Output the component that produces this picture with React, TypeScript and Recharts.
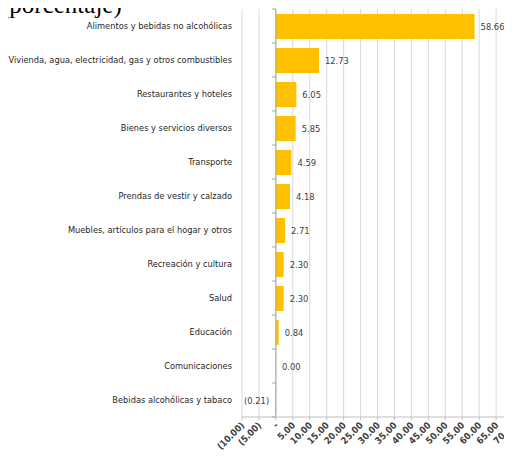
import React from 'react';
import {
  BarChart, Bar, XAxis, YAxis, CartesianGrid, ReferenceLine, LabelList
} from 'recharts';

const categories = [
  'Alimentos y bebidas no alcohólicas',
  'Vivienda, agua, electricidad, gas y otros combustibles',
  'Restaurantes y hoteles',
  'Bienes y servicios diversos',
  'Transporte',
  'Prendas de vestir y calzado',
  'Muebles, artículos para el hogar y otros',
  'Recreación y cultura',
  'Salud',
  'Educación',
  'Comunicaciones',
  'Bebidas alcohólicas y tabaco',
];

const values = [58.66, 12.73, 6.05, 5.85, 4.59, 4.18, 2.71, 2.30, 2.30, 0.84, 0.00, -0.21];

const xTicks = [-10, -5, 0, 5, 10, 15, 20, 25, 30, 35, 40, 45, 50, 55, 60, 65, 70];

const data = categories.map((name, i) => ({ name, value: values[i] }));

const FONT = "'DejaVu Sans Condensed', 'DejaVu Sans', sans-serif";
const W = 520;
const H = 458;
const MARGIN = { top: 9, right: 7, bottom: 0, left: 0 };
const Y_W = 242;
const X_H = 41;
const plotW = W - MARGIN.left - MARGIN.right - Y_W;
const plotH = H - MARGIN.top - MARGIN.bottom - X_H;
const band = plotH / categories.length;
const zeroX = MARGIN.left + Y_W + ((0 - xTicks[0]) / (xTicks[xTicks.length - 1] - xTicks[0])) * plotW;

const fmtAxis = (v: number) => {
  if (v === 0) return '-';
  if (v < 0) return `(${Math.abs(v).toFixed(2)})`;
  return v.toFixed(2);
};

const fmtLabel = (v: number) => (v < 0 ? `(${Math.abs(v).toFixed(2)})` : v.toFixed(2));

const XTick = (props: any) => {
  const { x, y, payload } = props;
  return (
    <g transform={`translate(${x + 3},${y + 4})`}>
      <text x={0} y={0} textAnchor="end" transform="rotate(-45)"
        fontFamily={FONT} fontSize={9.3} fontWeight="bold" fill="#404040">
        {fmtAxis(payload.value)}
      </text>
    </g>
  );
};

const YTick = (props: any) => {
  const { x, y, payload, index } = props;
  const top = y - band / 2;
  return (
    <g>
      <text x={x - 2} y={y} dy="0.35em" textAnchor="end" fontFamily={FONT} fontSize={9.2} fill="#262626">
        {payload.value}
      </text>
      <line x1={zeroX - 4} x2={zeroX} y1={top} y2={top} stroke="#a6a6a6" />
      {index === categories.length - 1 && (
        <line x1={zeroX - 4} x2={zeroX} y1={top + band} y2={top + band} stroke="#a6a6a6" />
      )}
    </g>
  );
};

// zero-valued bars get a hairline so their label still renders
const minSize = (v: any) => (v === 0 ? 0.05 : 0);

const App: React.FC = () => {
  return (
    <div style={{ position: 'relative', width: 512, height: 458, margin: -8, overflow: 'hidden', background: '#fff' }}>
      <div style={{
        position: 'absolute', left: 1, top: -10, fontFamily: "'Liberation Serif', serif",
        fontSize: 25, lineHeight: '30px', color: '#000', whiteSpace: 'nowrap', zIndex: 2
      }}>
        (porcentaje)
      </div>
      <BarChart width={W} height={H} data={data} layout="vertical" margin={MARGIN} barSize={25}>
        <CartesianGrid horizontal={false} stroke="#d9d9d9" />
        <XAxis
          type="number"
          domain={[xTicks[0], xTicks[xTicks.length - 1]]}
          ticks={xTicks}
          interval={0}
          height={X_H}
          stroke="#bfbfbf"
          tickSize={3}
          tick={<XTick />}
        />
        <YAxis
          type="category"
          dataKey="name"
          width={Y_W}
          axisLine={false}
          tickLine={false}
          interval={0}
          tick={<YTick />}
        />
        <Bar dataKey="value" fill="#FFC000" minPointSize={minSize} isAnimationActive={false}>
          <LabelList
            dataKey="value"
            position="right"
            offset={6}
            formatter={fmtLabel}
            fontFamily={FONT}
            fontSize={9.3}
            fill="#404040"
          />
        </Bar>
        <ReferenceLine x={0} stroke="#a6a6a6" />
      </BarChart>
    </div>
  );
};

export default App;
